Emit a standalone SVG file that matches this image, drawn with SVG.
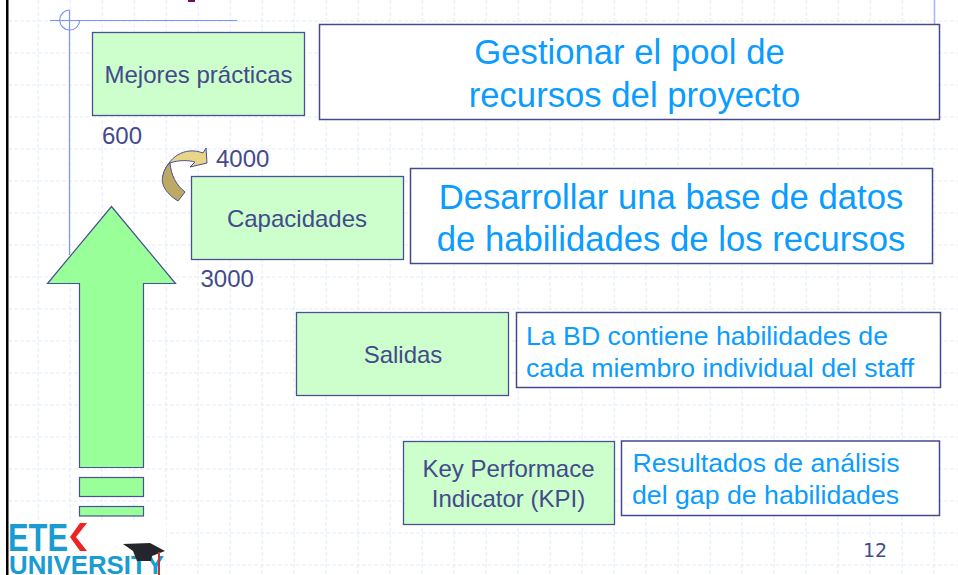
<svg xmlns="http://www.w3.org/2000/svg" width="958" height="575" viewBox="0 0 958 575">
<style>
.g{stroke:#e3eafc;stroke-width:1;stroke-dasharray:4 2;fill:none}
.b{fill:#ccffcc;stroke:#4a4f96;stroke-width:1.3}
.w{fill:#fff;stroke:#45478f;stroke-width:1.5}
.a{fill:#99ff99;stroke:#4a4f96;stroke-width:1.2}
text{font-family:"Liberation Sans",Arial,sans-serif}
.d{fill:#444a8c;font-size:24px}
.n{fill:#444a8c;font-size:24px}
.c{text-anchor:middle}
.t{fill:#0b9cff}
.l{font-size:34.7px}
.m{font-size:26.7px}
</style>
<rect width="958" height="575" fill="#fff"/>
<g id="grid">
<path class="g" d="M38 0V575M70 0V575M102 0V575M134 0V575M166 0V575M198 0V575M230 0V575M262 0V575M294 0V575M326 0V575M358 0V575M390 0V575M422 0V575M454 0V575M486 0V575M518 0V575M550 0V575M582 0V575M614 0V575M646 0V575M678 0V575M710 0V575M742 0V575M774 0V575M806 0V575M838 0V575M870 0V575M902 0V575M934 0V575"/>
<path class="g" d="M8 21H958M8 53H958M8 85H958M8 117H958M8 149H958M8 181H958M8 213H958M8 245H958M8 277H958M8 309H958M8 341H958M8 373H958M8 405H958M8 437H958M8 469H958M8 501H958M8 533H958M8 565H958"/>
</g>
<g id="frame">
<rect x="6" y="0" width="2.5" height="575" fill="#000"/>
<path d="M50 20.500H237M69.500 10V255" stroke="#7f95f5" stroke-width="1.200" fill="none"/>
<path d="M69.500 10A10 10 0 1 0 79.700 20.500" stroke="#7f95f5" stroke-width="1.200" fill="none"/>
<path d="M934.500 0V24" stroke="#a9b5f5" stroke-width="1.500"/>
<rect x="188" y="0" width="7" height="2" fill="#6b0f5a"/>
</g>
<g id="connectors"/>
<g id="up-arrow">
<path class="a" d="M111.500 206.500L175.500 283.500H143.500V467.500H79.500V283.500H47.500Z"/>
<rect class="a" x="79.500" y="477.500" width="64" height="19"/>
<rect class="a" x="79.500" y="506.500" width="64" height="9.500"/>
</g>
<g id="curved-arrow">
<path d="M163 177C167 157 185 146 203 153L206 148L207 163L190 167L195 162C188 160 178 160 170 163C167 165 164 170 163 177Z" fill="#e9d586" stroke="#4a4f96"/>
<path d="M170 163C171 175 176 185 185 192L178 201C167 194 160 185 163 175C164 170 167 165 170 163Z" fill="#bda963" stroke="#4a4f96"/>
</g>
<g id="n-mejores">
<rect class="b" x="92.500" y="32.500" width="212" height="83"/>
<text class="d c" x="198.500" y="83">Mejores prácticas</text>
</g>
<g id="n-gestionar">
<rect class="w" x="319.500" y="24.500" width="620" height="95"/>
<text class="t c l" x="629.500" y="64">Gestionar el pool de</text>
<text class="t c l" x="634.500" y="107">recursos del proyecto</text>
</g>
<text class="n" x="102" y="144">600</text>
<text class="n" x="216" y="167">4000</text>
<text class="n" x="200.500" y="287">3000</text>
<g id="n-capacidades">
<rect class="b" x="191.500" y="176.500" width="212" height="83"/>
<text class="d c" x="297" y="227">Capacidades</text>
</g>
<g id="n-desarrollar">
<rect class="w" x="410.500" y="168.500" width="522" height="95"/>
<text class="t c l" x="671" y="209">Desarrollar una base de datos</text>
<text class="t c l" x="671" y="251">de habilidades de los recursos</text>
</g>
<g id="n-salidas">
<rect class="b" x="296.500" y="312.500" width="212" height="83"/>
<text class="d c" x="403" y="363">Salidas</text>
</g>
<g id="n-bd">
<rect class="w" x="516.500" y="312.500" width="424" height="75"/>
<text class="t m" x="526" y="345">La BD contiene habilidades de</text>
<text class="t m" x="526" y="377">cada miembro individual del staff</text>
</g>
<g id="n-kpi">
<rect class="b" x="403.500" y="441.500" width="211" height="83"/>
<text class="d c" x="508.500" y="477">Key Performace</text>
<text class="d c" x="508.500" y="507">Indicator (KPI)</text>
</g>
<g id="n-resultados">
<rect class="w" x="621.500" y="441" width="318" height="74.500"/>
<text class="t m" x="632.500" y="472">Resultados de análisis</text>
<text class="t m" x="632" y="504">del gap de habilidades</text>
</g>
<text x="863" y="557" fill="#444a8c" font-size="19" style="font-family:'DejaVu Sans',sans-serif">12</text>
<g id="logo">
<rect x="9" y="520" width="157" height="55" fill="#fff"/>
<text x="8" y="551" font-size="39" font-weight="700" fill="#1a9bd2" textLength="60" lengthAdjust="spacingAndGlyphs">ETE</text>
<path d="M80 523H87L76 537L87 551H80L70 537Z" fill="#ee2424"/>
<text x="9" y="574" font-size="26" font-weight="700" fill="#1a9bd2" textLength="155" lengthAdjust="spacingAndGlyphs">UNIVERSITY</text>
<path d="M123 544L150 543L165 551L152 556L151 561H137L133 551Z" fill="#25262c"/>
<path d="M159 552V575" stroke="#c2363a" stroke-width="2"/>
</g>
</svg>
